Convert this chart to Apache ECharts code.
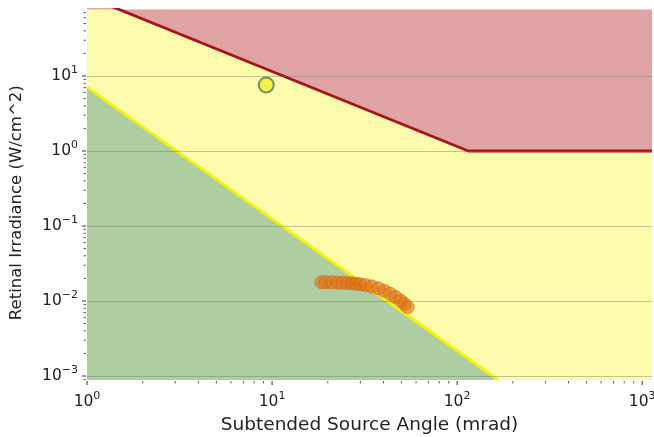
<!DOCTYPE html>
<html>
<head>
<meta charset="utf-8">
<script src="https://cdn.jsdelivr.net/npm/echarts@6/dist/echarts.min.js"></script>
<style>
  html, body { margin: 0; padding: 0; background: #fff; }
  #chart { width: 654px; height: 437px; }
</style>
</head>
<body>
<div id="chart"></div>
<script>
// axis ranges (mrad, W/cm^2)
const xMin = 1, xMax = 1130
const yMin = 8.85e-4, yMax = 77

// hazard limit (red) and safe limit (yellow) lines
const redLimit = [[1, 115], [115, 1], [1130, 1]]
const yellowLimit = [[1, 7.1], [167, 8.85e-4]]

// single marker
const markerPoint = [[9.3, 7.6]]

// measured points (orange)
const measAngle = [18.5, 19.5, 21, 22.5, 24, 25.5, 27, 28.5, 30, 32, 34.5, 37.5, 40.5, 43.5, 46.5, 49.5, 52, 54]
const measIrr = [0.0178, 0.0178, 0.0177, 0.0176, 0.0175, 0.0174, 0.0172, 0.0170, 0.0167, 0.0163, 0.0157, 0.0148, 0.0137, 0.0125, 0.0113, 0.0101, 0.0091, 0.0083]

// tick positions (decades and minor 2..9)
const xDecades = [1, 10, 100, 1000]
const yDecades = [0.0001, 0.001, 0.01, 0.1, 1, 10]

// colours
const red = '#e0a3a3'
const yellow = '#fbfbab'
const green = '#aecea1'
const textColor = '#222'

function tickList(decades, lo, hi) {
  let out = []
  decades.forEach(d => {
    for (let m = 1; m <= 9; m++) {
      let v = d * m
      if (v >= lo * 0.999 && v <= hi * 1.001) out.push([v, m === 1 ? 1 : 0])
    }
  })
  return out
}

function powLabel(value) {
  let e = Math.round(Math.log10(value))
  if (Math.abs(Math.log10(value) - e) > 1e-6) return ''
  let s = e < 0 ? '\u2212' + (-e) : '' + e
  return '{b|10}{e|' + s + '}'
}

const labelRich = {
  b: { fontSize: 15.5, color: textColor, fontFamily: 'DejaVu Sans', lineHeight: 22 },
  e: { fontSize: 11, color: textColor, fontFamily: 'DejaVu Sans', verticalAlign: 'top', lineHeight: 12 }
}

let chart = echarts.init(document.getElementById('chart'))

let option = {
  animation: false,
  grid: {
    left: 87, right: 2, top: 9.5, bottom: 57,
    outerBoundsMode: 'none',
    show: true, backgroundColor: yellow, borderWidth: 0
  },
  xAxis: {
    type: 'log', logBase: 10, min: xMin, max: xMax,
    name: 'Subtended Source Angle (mrad)',
    nameLocation: 'middle', nameGap: 36,
    nameTextStyle: { fontSize: 18.5, color: textColor, fontFamily: 'DejaVu Sans' },
    axisLine: { show: false },
    axisTick: { show: false },
    splitLine: { show: false },
    axisLabel: {
      showMinLabel: true, showMaxLabel: false, margin: 11,
      formatter: powLabel, rich: labelRich
    }
  },
  yAxis: {
    type: 'log', logBase: 10, min: yMin, max: yMax, z: 3,
    name: 'Retinal Irradiance (W/cm^2)',
    nameLocation: 'middle', nameGap: 62, nameRotate: 90,
    nameTextStyle: { fontSize: 16.5, color: textColor, fontFamily: 'DejaVu Sans', padding: [0, 16, 0, 0] },
    axisLine: { show: false },
    axisTick: { show: false },
    splitLine: {
      show: true, showMinLine: false, showMaxLine: false,
      lineStyle: { color: 'rgba(110,110,110,0.4)', width: 1 }
    },
    axisLabel: {
      showMinLabel: false, showMaxLabel: false, margin: 9,
      formatter: powLabel, rich: labelRich
    }
  },
  series: [
    {
      name: 'hazard', type: 'line', data: redLimit, symbol: 'none', z: 2,
      lineStyle: { color: '#a8121a', width: 2.8 },
      areaStyle: { color: red, opacity: 1, origin: 'end' }
    },
    {
      name: 'safe', type: 'line', data: yellowLimit, symbol: 'none', z: 2,
      lineStyle: { color: '#f2f20a', width: 3 },
      areaStyle: { color: green, opacity: 1, origin: 'start' }
    },
    {
      name: 'marker', type: 'scatter', data: markerPoint, z: 5,
      symbolSize: 15,
      itemStyle: { color: '#f2ef2a', borderColor: '#4d7a62', borderWidth: 2 }
    },
    {
      name: 'measured', type: 'scatter', z: 5,
      data: measAngle.map((a, i) => [a, measIrr[i]]),
      symbolSize: 13,
      itemStyle: { color: 'rgba(226,112,18,0.75)', borderColor: 'rgba(205,100,20,0.8)', borderWidth: 1 }
    },
    {
      name: 'xticks', type: 'custom', silent: true, clip: false, z: 6,
      data: tickList(xDecades, xMin, xMax).map(t => [t[0], yMin, t[1]]),
      renderItem: function (params, api) {
        let p = api.coord([api.value(0), yMin])
        let len = api.value(2) ? 4 : 2.5
        return {
          type: 'line',
          shape: { x1: p[0], y1: p[1] + 1, x2: p[0], y2: p[1] + 1 + len },
          style: { stroke: '#333', lineWidth: api.value(2) ? 1 : 0.8 }
        }
      }
    },
    {
      name: 'yticks', type: 'custom', silent: true, clip: false, z: 6,
      data: tickList(yDecades, yMin, yMax).map(t => [xMin, t[0], t[1]]),
      renderItem: function (params, api) {
        let p = api.coord([xMin, api.value(1)])
        let len = api.value(2) ? 4 : 2.5
        return {
          type: 'line',
          shape: { x1: p[0] - 1, y1: p[1], x2: p[0] - 1 - len, y2: p[1] },
          style: { stroke: '#333', lineWidth: api.value(2) ? 1 : 0.8 }
        }
      }
    }
  ]
}

option && chart.setOption(option)
</script>
</body>
</html>
